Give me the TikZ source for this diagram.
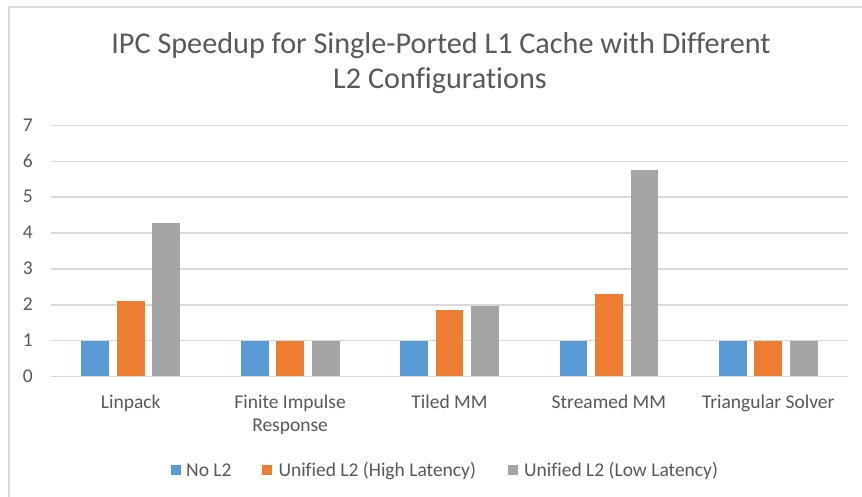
\documentclass[tikz,border=0pt]{standalone}
\usepackage{fontspec}
\setmainfont[Ligatures=NoCommon]{Carlito}
\definecolor{txt}{HTML}{595959}
\definecolor{grid}{HTML}{D9D9D9}
\definecolor{sNo}{HTML}{5B9BD5}
\definecolor{sHigh}{HTML}{ED7D31}
\definecolor{sLow}{HTML}{A5A5A5}
\tikzset{
  gridline/.style={draw=grid, line width=1.3pt},
  ticklabel/.style={text=txt, font=\fontsize{19.5}{23}\selectfont, anchor=base east, inner sep=0pt},
  catlabel/.style={text=txt, font=\fontsize{19.5}{23}\selectfont, anchor=base, inner sep=0pt},
  legtext/.style={text=txt, font=\fontsize{19.5}{23}\selectfont, anchor=base west, inner sep=0pt},
  titletext/.style={text=txt, font=\fontsize{30.2}{36}\selectfont, anchor=base, inner sep=0pt},
}
\begin{document}
\begin{tikzpicture}[x=1pt, y=-1pt]
  \useasboundingbox (0,0) rectangle (862,497);
  \fill[white] (0,0) rectangle (862,497);
  % chart frame (runs off the right and bottom edges)
  \begin{scope}
    \clip (0,0) rectangle (862,497);
    \draw[draw=grid, line width=1.2pt] (9,7) rectangle (875,510);
  \end{scope}

  % title
  \node[titletext] (title1) at (441,53.3) {IPC Speedup for Single-Ported L1 Cache with Different};
  \node[titletext] (title2) at (440,88.3) {L2 Configurations};

  % horizontal gridlines and value axis labels
  \foreach \v in {0,...,7} {
    \pgfmathsetmacro{\yy}{376.7-35.91*\v}
    \draw[gridline] (51,\yy) -- (848,\yy);
    \node[ticklabel] (tick\v) at (33,\yy+5.8) {\v};
  }

  % bars: category index / No L2 / High latency / Low latency
  \foreach \i/\a/\b/\c in {0/1/2.11/4.27, 1/1/1/1, 2/1/1.86/1.96, 3/1/2.30/5.76, 4/1/1/1} {
    \pgfmathsetmacro{\cx}{51+159.4*(\i+0.5)}
    \fill[sNo]   (\cx-35.5-13.9,376.7) rectangle (\cx-35.5+13.9,376.7-35.91*\a);
    \fill[sHigh] (\cx-13.9,376.7) rectangle (\cx+13.9,376.7-35.91*\b);
    \fill[sLow]  (\cx+35.5-13.9,376.7) rectangle (\cx+35.5+13.9,376.7-35.91*\c);
  }
  % axis line on top of bar bottoms
  \draw[gridline] (51,376.7) -- (848,376.7);

  % category labels
  \node[catlabel] (cat0)  at (130.7,408.3) {Linpack};
  \node[catlabel] (cat1a) at (290.1,408.3) {Finite Impulse};
  \node[catlabel] (cat1b) at (290.1,431.7) {Response};
  \node[catlabel] (cat2)  at (449.5,408.3) {Tiled MM};
  \node[catlabel] (cat3)  at (608.9,408.3) {Streamed MM};
  \node[catlabel] (cat4)  at (768.3,408.3) {Triangular Solver};

  % legend
  \fill[sNo]   (170.7,464.5) rectangle (180.7,474.5);
  \node[legtext] (legNo) at (186,476) {No L2};
  \fill[sHigh] (262,464.5) rectangle (272,474.5);
  \node[legtext] (legHigh) at (278.3,476) {Unified L2 (High Latency)};
  \fill[sLow]  (508,464.5) rectangle (518,474.5);
  \node[legtext] (legLow) at (524,476) {Unified L2 (Low Latency)};
\end{tikzpicture}
\end{document}
